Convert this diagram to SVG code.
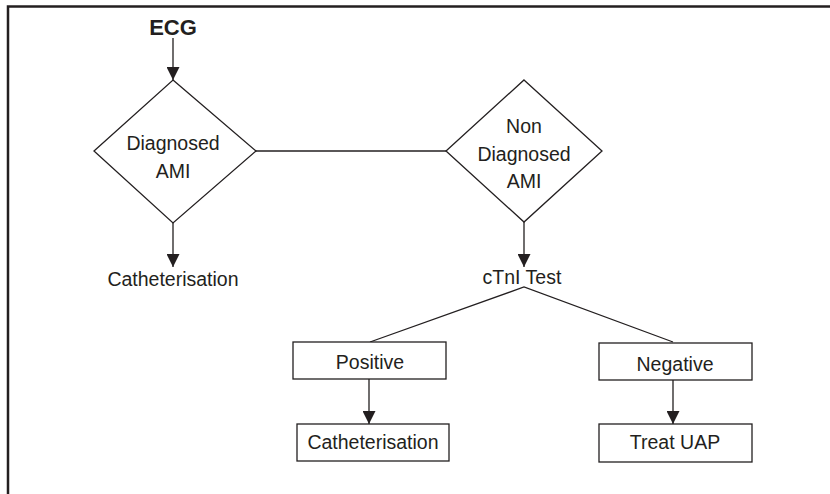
<svg xmlns="http://www.w3.org/2000/svg" width="830" height="494" viewBox="0 0 830 494">
<defs>
<style>
.t{font-family:"Liberation Sans",Arial,sans-serif;font-size:19.5px;fill:#231f20;text-anchor:middle}
.b{font-weight:bold;font-size:22px}
.s{fill:#fff;stroke:#231f20;stroke-width:1.3}
.c{fill:none;stroke:#231f20;stroke-width:1.3}
.f{fill:none;stroke:#231f20;stroke-width:2.5}
</style>
<marker id="ah" markerUnits="userSpaceOnUse" markerWidth="14" markerHeight="13" refX="13" refY="6.5" orient="auto">
<path d="M0,0 L13,6.5 L0,13 Z" fill="#231f20"/>
</marker>
</defs>
<rect width="830" height="494" fill="#fff"/>
<path class="f" d="M8,494 V6.5 H830"/>
<g id="connectors">
<line class="c" x1="173" y1="38" x2="173" y2="80" marker-end="url(#ah)"/>
<line class="c" x1="173" y1="223" x2="173" y2="267" marker-end="url(#ah)"/>
<line class="c" x1="256" y1="151" x2="446" y2="151"/>
<line class="c" x1="524" y1="222" x2="524" y2="267" marker-end="url(#ah)"/>
<polyline class="c" points="370,342 524,287 673,342"/>
<line class="c" x1="369" y1="379" x2="369" y2="424" marker-end="url(#ah)"/>
<line class="c" x1="673" y1="380" x2="673" y2="424" marker-end="url(#ah)"/>
</g>
<g id="ecg"><text class="t b" x="173" y="35">ECG</text></g>
<g id="diag">
<polygon class="s" points="173,80 256,151 173,223 94,151"/>
<text class="t" x="173" y="150">Diagnosed</text>
<text class="t" x="173" y="178">AMI</text>
</g>
<g id="cath1"><text class="t" x="173" y="286">Catheterisation</text></g>
<g id="nondiag">
<polygon class="s" points="524,80 602,151 524,222 446,151"/>
<text class="t" x="524" y="133">Non</text>
<text class="t" x="524" y="161">Diagnosed</text>
<text class="t" x="524" y="188">AMI</text>
</g>
<g id="ctni"><text class="t" x="522" y="284">cTnI Test</text></g>
<g id="positive">
<rect class="s" x="293" y="342" width="153" height="37"/>
<text class="t" x="370" y="369">Positive</text>
</g>
<g id="cath2">
<rect class="s" x="297" y="424" width="152" height="37"/>
<text class="t" x="373" y="449">Catheterisation</text>
</g>
<g id="negative">
<rect class="s" x="599" y="343" width="153" height="37"/>
<text class="t" x="675" y="371">Negative</text>
</g>
<g id="uap">
<rect class="s" x="599" y="424" width="153" height="38"/>
<text class="t" x="675" y="449">Treat UAP</text>
</g>
</svg>
